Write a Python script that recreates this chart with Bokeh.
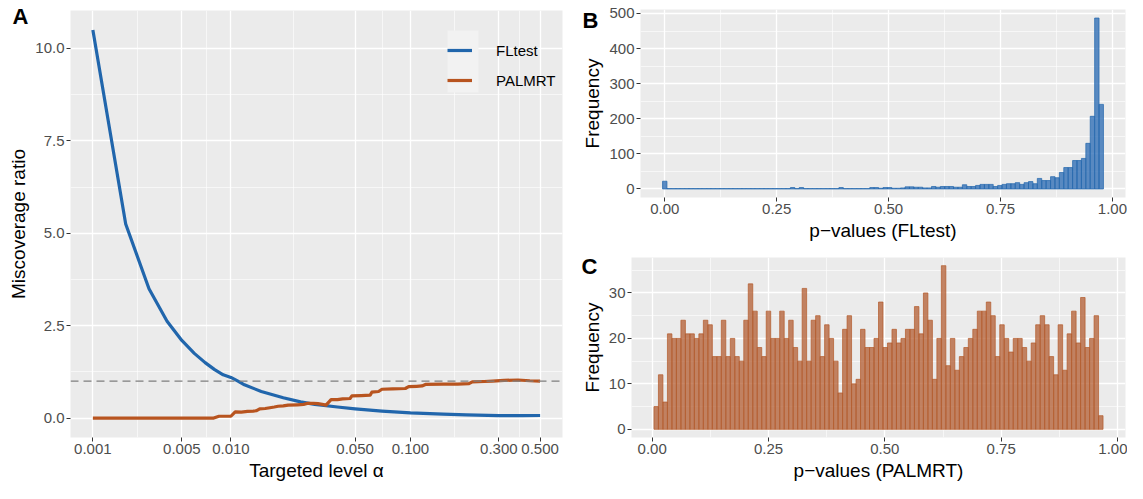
import numpy as np
from bokeh.plotting import figure
from bokeh.models import (Range1d, FixedTicker, CustomJSTickFormatter, NumeralTickFormatter,
                          Legend, LegendItem, BoxAnnotation, Span, ColumnDataSource, Title)
from bokeh.layouts import row, column
from bokeh.embed import file_html
from bokeh.resources import INLINE

# ---------------- data ----------------
# Panel A: miscoverage ratio vs targeted level alpha
fl_alpha = [0.001, 0.002, 0.003, 0.004, 0.005, 0.006, 0.007, 0.008, 0.009, 0.010, 0.011, 0.012,
            0.015, 0.020, 0.025, 0.030, 0.040, 0.050, 0.070, 0.100, 0.150, 0.200, 0.300, 0.400, 0.500]
fl_ratio = [10.5, 5.25, 3.5, 2.62, 2.1, 1.75, 1.5, 1.31, 1.17, 1.1, 1.0, 0.9,
            0.72, 0.55, 0.44, 0.37, 0.30, 0.25, 0.19, 0.14, 0.105, 0.085, 0.065, 0.065, 0.07]

pa_alpha = [0.001, 0.0079, 0.0085, 0.0100, 0.0106, 0.0115, 0.0125, 0.0135, 0.0141, 0.0147,
            0.0158, 0.0168, 0.0178, 0.0187, 0.0200, 0.0213, 0.0240, 0.0260, 0.0275, 0.0295,
            0.0312, 0.0330, 0.0346, 0.0369, 0.0400, 0.0427, 0.0469, 0.0480, 0.0540, 0.0604,
            0.0617, 0.0671, 0.0700, 0.0800, 0.0938, 0.0978, 0.1080, 0.1156, 0.1205, 0.1500,
            0.1800, 0.2070, 0.2158, 0.2500, 0.2770, 0.3200, 0.3800, 0.4400, 0.5000]
pa_ratio = [0, 0, 0.05, 0.05, 0.17, 0.16, 0.18, 0.19, 0.20, 0.25,
            0.26, 0.28, 0.30, 0.32, 0.33, 0.35, 0.36, 0.37, 0.40, 0.40,
            0.39, 0.37, 0.35, 0.50, 0.50, 0.52, 0.53, 0.60, 0.61, 0.62,
            0.70, 0.72, 0.78, 0.79, 0.80, 0.85, 0.86, 0.87, 0.91, 0.92,
            0.92, 0.93, 0.98, 0.99, 1.00, 1.02, 1.03, 1.01, 1.00]

a_tick_values = [0.001, 0.005, 0.010, 0.050, 0.100, 0.300, 0.500]
a_tick_labels = ["0.001", "0.005", "0.010", "0.050", "0.100", "0.300", "0.500"]
target_ratio = 1.0

# Panel B: histogram of FLtest p-values (100 bins, centred from b_min to b_max)
b_min, b_max = 0.0, 0.975
b_counts = [22, 1, 1, 1, 1, 1, 1, 1, 1, 1,
            1, 1, 1, 1, 1, 1, 1, 1, 1, 1,
            1, 1, 1, 1, 1, 1, 1, 1, 1, 4,
            1, 4, 1, 1, 1, 1, 1, 1, 1, 1,
            4, 1, 1, 1, 1, 1, 1, 4, 4, 2,
            4, 4, 2, 2, 3, 6, 6, 5, 5, 3,
            3, 7, 5, 7, 7, 7, 5, 5, 12, 7,
            7, 10, 13, 13, 13, 7, 10, 13, 15, 15,
            18, 13, 18, 21, 15, 30, 24, 24, 35, 32,
            47, 61, 61, 81, 81, 87, 130, 207, 487, 241]

# Panel C: histogram of PALMRT p-values (100 bins, centred from c_min to c_max)
c_min, c_max = 0.0086, 0.964
c_counts = [5, 12, 6, 21, 20, 20, 24, 21, 21, 20,
            21, 24, 23, 16, 16, 24, 16, 20, 16, 15,
            24, 32, 26, 18, 16, 26, 20, 20, 26, 20,
            24, 18, 15, 31, 15, 24, 25, 16, 23, 20,
            15, 8, 22, 25, 10, 11, 22, 18, 18, 20,
            28, 18, 19, 22, 19, 20, 22, 22, 27, 21,
            30, 24, 11, 20, 36, 14, 20, 13, 16, 18,
            20, 22, 26, 26, 28, 25, 16, 23, 20, 17,
            20, 20, 18, 15, 19, 23, 25, 23, 16, 12,
            23, 13, 21, 26, 19, 29, 18, 20, 25, 3]

p_ticks = [0.0, 0.25, 0.5, 0.75, 1.0]
p_minor = [0.125, 0.375, 0.625, 0.875]

# ---------------- styling helpers ----------------
FONT = "Liberation Sans"
BLUE = "#2166AC"
ORANGE = "#B8541F"


def style(p):
    p.background_fill_color = "#EBEBEB"
    p.border_fill_color = "white"
    p.outline_line_color = None
    for ax in (p.xaxis[0], p.yaxis[0]):
        ax.axis_line_color = None
        ax.major_tick_line_color = "#333333"
        ax.major_tick_line_width = 1
        ax.major_tick_out = 4
        ax.major_tick_in = 0
        ax.minor_tick_line_color = None
        ax.major_label_text_color = "#4D4D4D"
        ax.major_label_text_font = FONT
        ax.major_label_text_font_size = "15px"
        ax.major_label_standoff = 2
        ax.axis_label_text_font = FONT
        ax.axis_label_text_font_size = "19px"
        ax.axis_label_text_font_style = "normal"
        ax.axis_label_text_color = "black"
        ax.axis_label_standoff = 3
    p.grid.grid_line_color = "white"
    p.grid.grid_line_width = 1.3
    p.grid.minor_grid_line_color = "white"
    p.grid.minor_grid_line_width = 0.6


def expand(lo, hi, f=0.05):
    d = (hi - lo) * f
    return float(lo - d), float(hi + d)


def tr(a):
    return np.log(np.asarray(a, dtype=float) + 0.001)


def panel_letter(p, text, offset, standoff):
    p.add_layout(Title(text=text, align="left", offset=offset, standoff=standoff,
                       text_font_size="22px", text_font_style="bold", text_color="black"), "above")


# ---------------- Panel A ----------------
t_lo, t_hi = expand(float(tr(min(fl_alpha))), float(tr(max(fl_alpha))))
ya_lo, ya_hi = expand(0.0, max(fl_ratio))
pA = figure(width=575, height=483, x_range=Range1d(t_lo, t_hi), y_range=Range1d(ya_lo, ya_hi),
            output_backend="svg", toolbar_location=None,
            min_border_left=70, min_border_right=13, min_border_top=10, min_border_bottom=44)
style(pA)
tvals = [float(v) for v in tr(a_tick_values)]
tminor = [(tvals[i] + tvals[i + 1]) / 2 for i in range(len(tvals) - 1)]
pA.xaxis[0].ticker = FixedTicker(ticks=tvals, minor_ticks=tminor)
pA.xaxis[0].formatter = CustomJSTickFormatter(args=dict(tv=tvals, labs=a_tick_labels), code="""
    let best = 0;
    for (let i = 0; i < tv.length; i++) { if (Math.abs(tv[i]-tick) < Math.abs(tv[best]-tick)) best = i; }
    return labs[best];
""")
pA.yaxis[0].ticker = FixedTicker(ticks=[0, 2.5, 5, 7.5, 10], minor_ticks=[1.25, 3.75, 6.25, 8.75])
pA.yaxis[0].formatter = NumeralTickFormatter(format="0.0")
pA.xaxis.axis_label = "Targeted level α"
pA.yaxis.axis_label = "Miscoverage ratio"

pA.add_layout(BoxAnnotation(left=377, right=408, top=407, bottom=345,
                            left_units="screen", right_units="screen",
                            top_units="screen", bottom_units="screen",
                            fill_color="#F2F2F2", fill_alpha=1.0, line_color=None, level="underlay"))
pA.add_layout(Span(location=target_ratio, dimension="width", line_color="#7F7F7F",
                   line_width=1.3, line_dash="8 5"))
srcF = ColumnDataSource(dict(x=tr(fl_alpha), y=fl_ratio))
srcP = ColumnDataSource(dict(x=tr(pa_alpha), y=pa_ratio))
rF = pA.line("x", "y", source=srcF, line_color=BLUE, line_width=3.2, line_join="round")
rP = pA.line("x", "y", source=srcP, line_color=ORANGE, line_width=3.2, line_join="round")
leg = Legend(items=[LegendItem(label="FLtest", renderers=[rF]),
                    LegendItem(label="PALMRT", renderers=[rP])],
             location=(377, 343), background_fill_alpha=0, border_line_color=None,
             label_text_font=FONT, label_text_font_size="15px", label_text_color="black",
             glyph_width=25, glyph_height=28, label_height=28, spacing=2, padding=3,
             label_standoff=24, margin=0)
pA.add_layout(leg)
panel_letter(pA, "A", -58, -36)


# ---------------- Histogram helper ----------------
def hist_fig(counts, pmin, pmax, height, top, bottom, left, xlabel, fill, alpha, line, yticks, yminor):
    n = len(counts)
    w = (pmax - pmin) / (n - 1)
    centers = np.linspace(pmin, pmax, n)
    x_lo, x_hi = expand(pmin - w / 2, pmax + w / 2)
    y_lo, y_hi = expand(0.0, max(counts))
    p = figure(width=552, height=height, x_range=Range1d(x_lo, x_hi), y_range=Range1d(y_lo, y_hi),
               output_backend="svg", toolbar_location=None,
               min_border_left=left, min_border_right=2, min_border_top=top, min_border_bottom=bottom)
    style(p)
    p.xaxis[0].ticker = FixedTicker(ticks=p_ticks, minor_ticks=p_minor)
    p.xaxis[0].formatter = NumeralTickFormatter(format="0.00")
    p.yaxis[0].ticker = FixedTicker(ticks=yticks, minor_ticks=yminor)
    p.xaxis.axis_label = xlabel
    p.yaxis.axis_label = "Frequency"
    src = ColumnDataSource(dict(l=centers - w / 2, r=centers + w / 2, t=counts))
    p.quad(left="l", right="r", top="t", bottom=0, source=src, fill_color=fill, fill_alpha=alpha,
           line_color=line, line_width=0.7)
    return p


pB = hist_fig(b_counts, b_min, b_max, 243, 9, 46, 65, "p−values (FLtest)", "#2E6DB5", 0.78, BLUE,
              [0, 100, 200, 300, 400, 500], [50, 150, 250, 350, 450])
panel_letter(pB, "B", -58, -46)
pC = hist_fig(c_counts, c_min, c_max, 240, 14, 46, 56, "p−values (PALMRT)", "#B0582B", 0.72, "#B35A2B",
              [0, 10, 20, 30], [5, 15, 25, 35])
panel_letter(pC, "C", -50, -42)

layout = row(pA, column(row(pB), row(pC)))
open("out.html", "w").write(file_html(layout, INLINE))
